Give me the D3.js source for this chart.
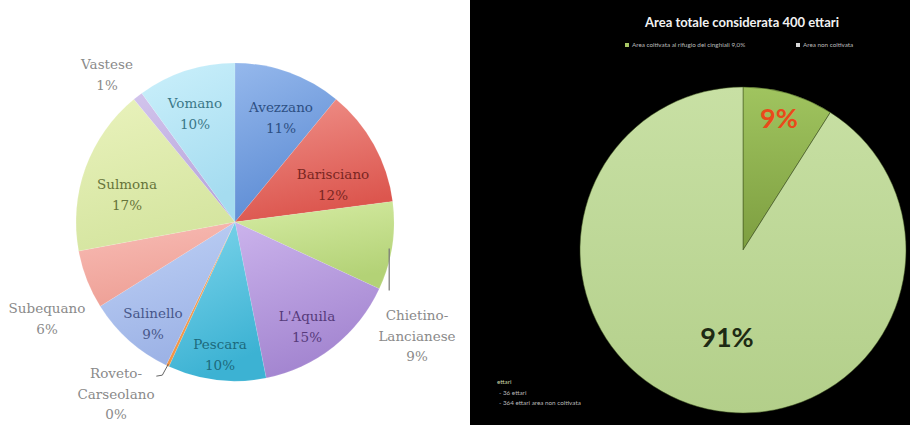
<!DOCTYPE html>
<html>
<head>
<meta charset="utf-8">
<script src="https://cdn.jsdelivr.net/npm/d3@7"></script>
<style>
  html, body { margin: 0; padding: 0; background: #ffffff; }
  svg { display: block; }
</style>
</head>
<body>
<svg id="chart" width="910" height="425"></svg>
<script>
// ---------- DATA ----------
const categories = ["Avezzano", "Barisciano", "Chietino-Lancianese", "L'Aquila", "Pescara",
  "Roveto-Carseolano", "Salinello", "Subequano", "Sulmona", "Vastese", "Vomano"];
const shares = [11, 12, 9, 15, 10, 0.3, 9, 6, 17, 1, 10];
const shareLabels = ["11%", "12%", "9%", "15%", "10%", "0%", "9%", "6%", "17%", "1%", "10%"];

const areaCategories = ["Area coltivata al rifugio dei cinghiali", "Area non coltivata"];
const areaHectares = [36, 364];
const areaLabels = ["9%", "91%"];
const chartTitle = "Area totale considerata 400 ettari";
const noteLines = ["ettari", "- 36 ettari", "- 364 ettari area non coltivata"];

// ---------- STYLE / LAYOUT ----------
const leftColors = {
  "Avezzano": ["#95b8ec", "#5d8cd4"],
  "Barisciano": ["#f0938c", "#dc564e"],
  "Chietino-Lancianese": ["#d6eca4", "#b3d276"],
  "L'Aquila": ["#cbb3ec", "#a385d0"],
  "Pescara": ["#7fd6ec", "#3cb2d3"],
  "Roveto-Carseolano": ["#f8b070", "#f09040"],
  "Salinello": ["#c0d2f6", "#9db3e6"],
  "Subequano": ["#f8bcb5", "#eea096"],
  "Sulmona": ["#e9f2bc", "#d5e5a0"],
  "Vastese": ["#d2c4ec", "#b8a6dc"],
  "Vomano": ["#cbf0fb", "#a5dcf0"]
};
const textColors = {
  "Avezzano": "#2d4f82", "Barisciano": "#7a2622", "L'Aquila": "#563a7a",
  "Pescara": "#1d6a7c", "Salinello": "#47578a", "Sulmona": "#66743a", "Vomano": "#3b7888"
};
const outsideColor = "#8a8a8a";
// label anchor offsets relative to pie center (layout only)
const labelLayout = {
  "Avezzano": [46, -104], "Barisciano": [98, -37], "Chietino-Lancianese": [182, 114],
  "L'Aquila": [72, 105], "Pescara": [-15, 133], "Roveto-Carseolano": [-119, 172],
  "Salinello": [-82, 102], "Subequano": [-188, 97], "Sulmona": [-108, -27],
  "Vastese": [-128, -147], "Vomano": [-40, -108]
};
const labelLines = {
  "Chietino-Lancianese": ["Chietino-", "Lancianese"],
  "Roveto-Carseolano": ["Roveto-", "Carseolano"]
};

const svg = d3.select("#chart");
const defs = svg.append("defs");

// ---------- LEFT PIE ----------
const L = { cx: 235, cy: 222, r: 159 };
const pie = d3.pie().sort(null).value(d => d.v);
const leftData = pie(categories.map((c, i) => ({ c, v: shares[i], l: shareLabels[i] })));
const arcL = d3.arc().innerRadius(0).outerRadius(L.r);

leftData.forEach((d, i) => {
  const g = defs.append("linearGradient").attr("id", "lg" + i)
    .attr("x1", 0).attr("y1", 0).attr("x2", 0.3).attr("y2", 1);
  g.append("stop").attr("offset", "0%").attr("stop-color", leftColors[d.data.c][0]);
  g.append("stop").attr("offset", "100%").attr("stop-color", leftColors[d.data.c][1]);
});

const gL = svg.append("g").attr("transform", `translate(${L.cx},${L.cy})`);
gL.selectAll("path.slice").data(leftData).join("path")
  .attr("class", "slice")
  .attr("d", arcL)
  .attr("fill", (d, i) => `url(#lg${i})`)
  .attr("stroke", "rgba(255,255,255,0.2)")
  .attr("stroke-width", 0.5);

// leader lines for outside labels
const leaderChietino = leftData.find(d => d.data.c === "Chietino-Lancianese");
const leaderRoveto = leftData.find(d => d.data.c === "Roveto-Carseolano");
function edgePoint(d, rr) {
  const a = (d.startAngle + d.endAngle) / 2;
  return [rr * Math.sin(a), -rr * Math.cos(a)];
}
{
  const p = edgePoint(leaderChietino, L.r - 3);
  gL.append("path")
    .attr("d", `M${p[0]},${p[1] + 3} L${p[0]},${p[1] + 45}`)
    .attr("stroke", "#777").attr("stroke-width", 1.2).attr("fill", "none");
  const q = edgePoint(leaderRoveto, L.r - 2);
  gL.append("path")
    .attr("d", `M${q[0]},${q[1]} L${q[0] - 6},${q[1] + 11} L${q[0] - 12},${q[1] + 12}`)
    .attr("stroke", "#666").attr("stroke-width", 1).attr("fill", "none");
}

const labG = gL.selectAll("g.lab").data(leftData).join("g")
  .attr("class", "lab")
  .attr("transform", d => `translate(${labelLayout[d.data.c][0]},${labelLayout[d.data.c][1]})`);
labG.each(function(d) {
  const lines = (labelLines[d.data.c] || [d.data.c]).concat([d.data.l]);
  const n = lines.length;
  const lh = n > 2 ? 20.5 : 21;
  const col = textColors[d.data.c] || outsideColor;
  d3.select(this).selectAll("text").data(lines).join("text")
    .attr("x", 0)
    .attr("y", (t, j) => (j - (n - 1) / 2) * lh)
    .attr("dy", "0.35em")
    .attr("text-anchor", "middle")
    .attr("font-family", "DejaVu Serif, serif")
    .attr("font-size", 13.5)
    .attr("fill", col)
    .text(t => t);
});

// ---------- RIGHT PANEL ----------
svg.append("rect").attr("x", 470).attr("y", 0).attr("width", 440).attr("height", 425).attr("fill", "#000");

const R = { cx: 743, cy: 250, r: 163 };
const rightColors = [["#a0c45f", "#7d9e40"], ["#c8e0a4", "#b3cf8a"]];
const rightData = pie(areaCategories.map((c, i) => ({ c, v: areaHectares[i], l: areaLabels[i] })));
const arcR = d3.arc().innerRadius(0).outerRadius(R.r);
rightData.forEach((d, i) => {
  const g = defs.append("linearGradient").attr("id", "rg" + i)
    .attr("x1", 0).attr("y1", 0).attr("x2", 0).attr("y2", 1);
  g.append("stop").attr("offset", "0%").attr("stop-color", rightColors[i][0]);
  g.append("stop").attr("offset", "100%").attr("stop-color", rightColors[i][1]);
});
const gR = svg.append("g").attr("transform", `translate(${R.cx},${R.cy})`);
gR.selectAll("path").data(rightData).join("path")
  .attr("d", arcR)
  .attr("fill", (d, i) => `url(#rg${i})`)
  .attr("stroke", "rgba(60,80,30,0.5)")
  .attr("stroke-width", 1);

const rightLabelLayout = [[36, -131], [-16, 88]];
const rightLabelColors = ["#ea4a1a", "#1e2a14"];
gR.selectAll("text.val").data(rightData).join("text")
  .attr("class", "val")
  .attr("x", (d, i) => rightLabelLayout[i][0])
  .attr("y", (d, i) => rightLabelLayout[i][1])
  .attr("dy", "0.35em")
  .attr("text-anchor", "middle")
  .attr("font-family", "Lato, 'Open Sans', sans-serif")
  .attr("font-weight", "bold")
  .attr("font-size", 27)
  .attr("fill", (d, i) => rightLabelColors[i])
  .text(d => d.data.l);

// title
svg.append("text")
  .attr("x", 742).attr("y", 27)
  .attr("text-anchor", "middle")
  .attr("font-family", "Lato, 'Open Sans', sans-serif")
  .attr("font-weight", "bold")
  .attr("font-size", 13)
  .attr("fill", "#f2f2f2")
  .text(chartTitle);

// legend
const legX = [627, 798];
const legCol = ["#a7c765", "#d8d8d8"];
const leg = svg.selectAll("g.leg").data(areaCategories).join("g")
  .attr("class", "leg")
  .attr("transform", (d, i) => `translate(${legX[i]},45)`);
leg.append("rect").attr("x", -2).attr("y", -2).attr("width", 4).attr("height", 4)
  .attr("fill", (d, i) => legCol[i]);
leg.append("text").attr("x", 5).attr("dy", "0.35em")
  .attr("font-family", "Lato, sans-serif").attr("font-size", 6.3)
  .attr("fill", "#bbbbbb")
  .text((d, i) => i === 0 ? d + " 9,0%" : d);

// bottom-left note
svg.selectAll("text.note").data(noteLines).join("text")
  .attr("class", "note")
  .attr("x", (d, i) => i === 0 ? 497 : 499)
  .attr("y", (d, i) => 382 + i * 10.5)
  .attr("dy", "0.35em")
  .attr("font-family", "Lato, sans-serif")
  .attr("font-size", 6.3)
  .attr("fill", (d, i) => i === 0 ? "#c9d6a8" : "#b8b8b8")
  .text(d => d);
</script>
</body>
</html>
